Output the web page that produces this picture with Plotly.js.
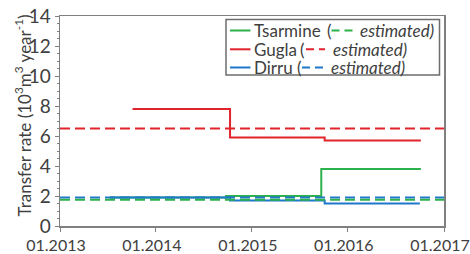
<!DOCTYPE html>
<html><head><meta charset="utf-8">
<script src="https://cdn.plot.ly/plotly-3.0.1.min.js"></script>
<style>body{margin:0}#c{width:470px;height:254px}</style>
</head><body><div id="c"></div>
<script>
// Data
const tsarmineDates = ['2013-07-10','2014-09-25','2015-09-22','2016-10-05'];
const tsarmineVals  = [1.9, 2.0, 3.8, 3.8];
const guglaDates    = ['2013-10-04','2014-10-10','2015-10-05','2016-10-05'];
const guglaVals     = [7.8, 5.9, 5.7, 5.7];
const dirruDates    = ['2013-07-10','2014-10-10','2015-10-05','2016-10-01'];
const dirruVals     = [1.9, 1.7, 1.5, 1.5];
const estDates      = ['2013-01-01','2017-01-01'];
const tsarmineEst   = 1.75;
const guglaEst      = 6.5;
const dirruEst      = 1.9;
const xTickVals     = ['2013-01-01','2014-01-01','2015-01-01','2016-01-01','2017-01-01'];
const xTickText     = ['01.2013','01.2014','01.2015','01.2016','01.2017'];
const seriesNames   = ['Tsarmine','Gugla','Dirru'];
const yTitle        = 'Transfer rate (10<sup>3</sup>m<sup>3</sup> year<sup>-1</sup>)';

const GREEN='#2db14b', RED='#e1232b', BLUE='#1f78c9';
const DASH='10px,5px';
const traces = [
  {x:estDates, y:[guglaEst,guglaEst], mode:'lines', line:{color:RED,width:2,dash:DASH}},
  {x:guglaDates, y:guglaVals, mode:'lines', line:{color:RED,width:2,shape:'hv'}},
  {x:tsarmineDates, y:tsarmineVals, mode:'lines', line:{color:GREEN,width:2,shape:'hv'}},
  {x:dirruDates, y:dirruVals, mode:'lines', line:{color:BLUE,width:2,shape:'hv'}},
  {x:estDates, y:[dirruEst,dirruEst], mode:'lines', line:{color:BLUE,width:2,dash:DASH}},
  {x:estDates, y:[tsarmineEst,tsarmineEst], mode:'lines', line:{color:GREEN,width:2,dash:DASH}},
];

// Manual legend (pixel layout -> paper coords)
const L=60, R=444, T=16, B=226;
const px = v => (v-L)/(R-L);
const py = v => (B-v)/(B-T);
const FONT='Lato, sans-serif', TXT='#404040';
const LF=17;
const rows = [
  {name:seriesNames[0], color:GREEN, y:30.5, par:325.5, dash0:331.5, dash1:353, est:359},
  {name:seriesNames[1], color:RED,   y:49.3, par:299,   dash0:306,   dash1:325, est:332},
  {name:seriesNames[2], color:BLUE,  y:67.5, par:295.5, dash0:302,   dash1:323, est:330},
];
const shapes = [{type:'rect', xref:'paper', yref:'paper', x0:px(226), x1:px(439.5), y0:py(75), y1:py(19.5),
  line:{color:'#6e6e6e',width:1.5}, fillcolor:'white', layer:'above'}];
const annotations = [];
const ann = (x, y, text) => ({xref:'paper', yref:'paper', x:px(x), y:py(y), xanchor:'left', yanchor:'middle',
  text, showarrow:false, font:{family:FONT,size:LF,color:TXT}, borderpad:0});
rows.forEach(r=>{
  shapes.push({type:'line', xref:'paper', yref:'paper', x0:px(230), x1:px(250.5), y0:py(r.y), y1:py(r.y), line:{color:r.color,width:2}, layer:'above'});
  shapes.push({type:'line', xref:'paper', yref:'paper', x0:px(r.dash0), x1:px(r.dash1), y0:py(r.y), y1:py(r.y), line:{color:r.color,width:2,dash:'8px,5px'}, layer:'above'});
  annotations.push(ann(253, r.y, r.name));
  annotations.push(ann(r.par, r.y, '('));
  annotations.push(ann(r.est, r.y, '<i>estimated)</i>'));
});
// y-axis title
annotations.push({xref:'paper', yref:'paper', x:px(23), y:py(115.5), xanchor:'center', yanchor:'middle',
  textangle:-90, text:yTitle, showarrow:false, font:{family:FONT,size:17,color:TXT}, borderpad:0});

const layout = {
  width:470, height:254,
  margin:{l:L, r:470-R, t:T, b:254-B},
  paper_bgcolor:'white', plot_bgcolor:'white',
  showlegend:false,
  font:{family:FONT, size:17, color:TXT},
  xaxis:{type:'date', range:['2013-01-01','2017-01-01'], tickvals:xTickVals, ticktext:xTickText,
    showgrid:false, zeroline:false, showline:true, mirror:true, linecolor:'#808080', linewidth:1.5,
    ticks:'outside', ticklen:4, tickcolor:'#808080', ticklabeloverflow:'allow', ticklabelshift:-4,
    tickfont:{family:FONT,size:16,color:TXT}},
  yaxis:{range:[0,14], dtick:2, showgrid:false, zeroline:false, showline:true, mirror:true,
    linecolor:'#808080', linewidth:1.5, ticks:'outside', ticklen:4, tickcolor:'#808080',
    minor:{dtick:0.5, ticks:'outside', ticklen:2, tickcolor:'#808080', showgrid:false},
    tickfont:{family:FONT,size:19,color:TXT}, ticklabeloverflow:'allow'},
  shapes, annotations
};
Plotly.newPlot('c', traces, layout, {displayModeBar:false, staticPlot:true});
</script></body></html>
